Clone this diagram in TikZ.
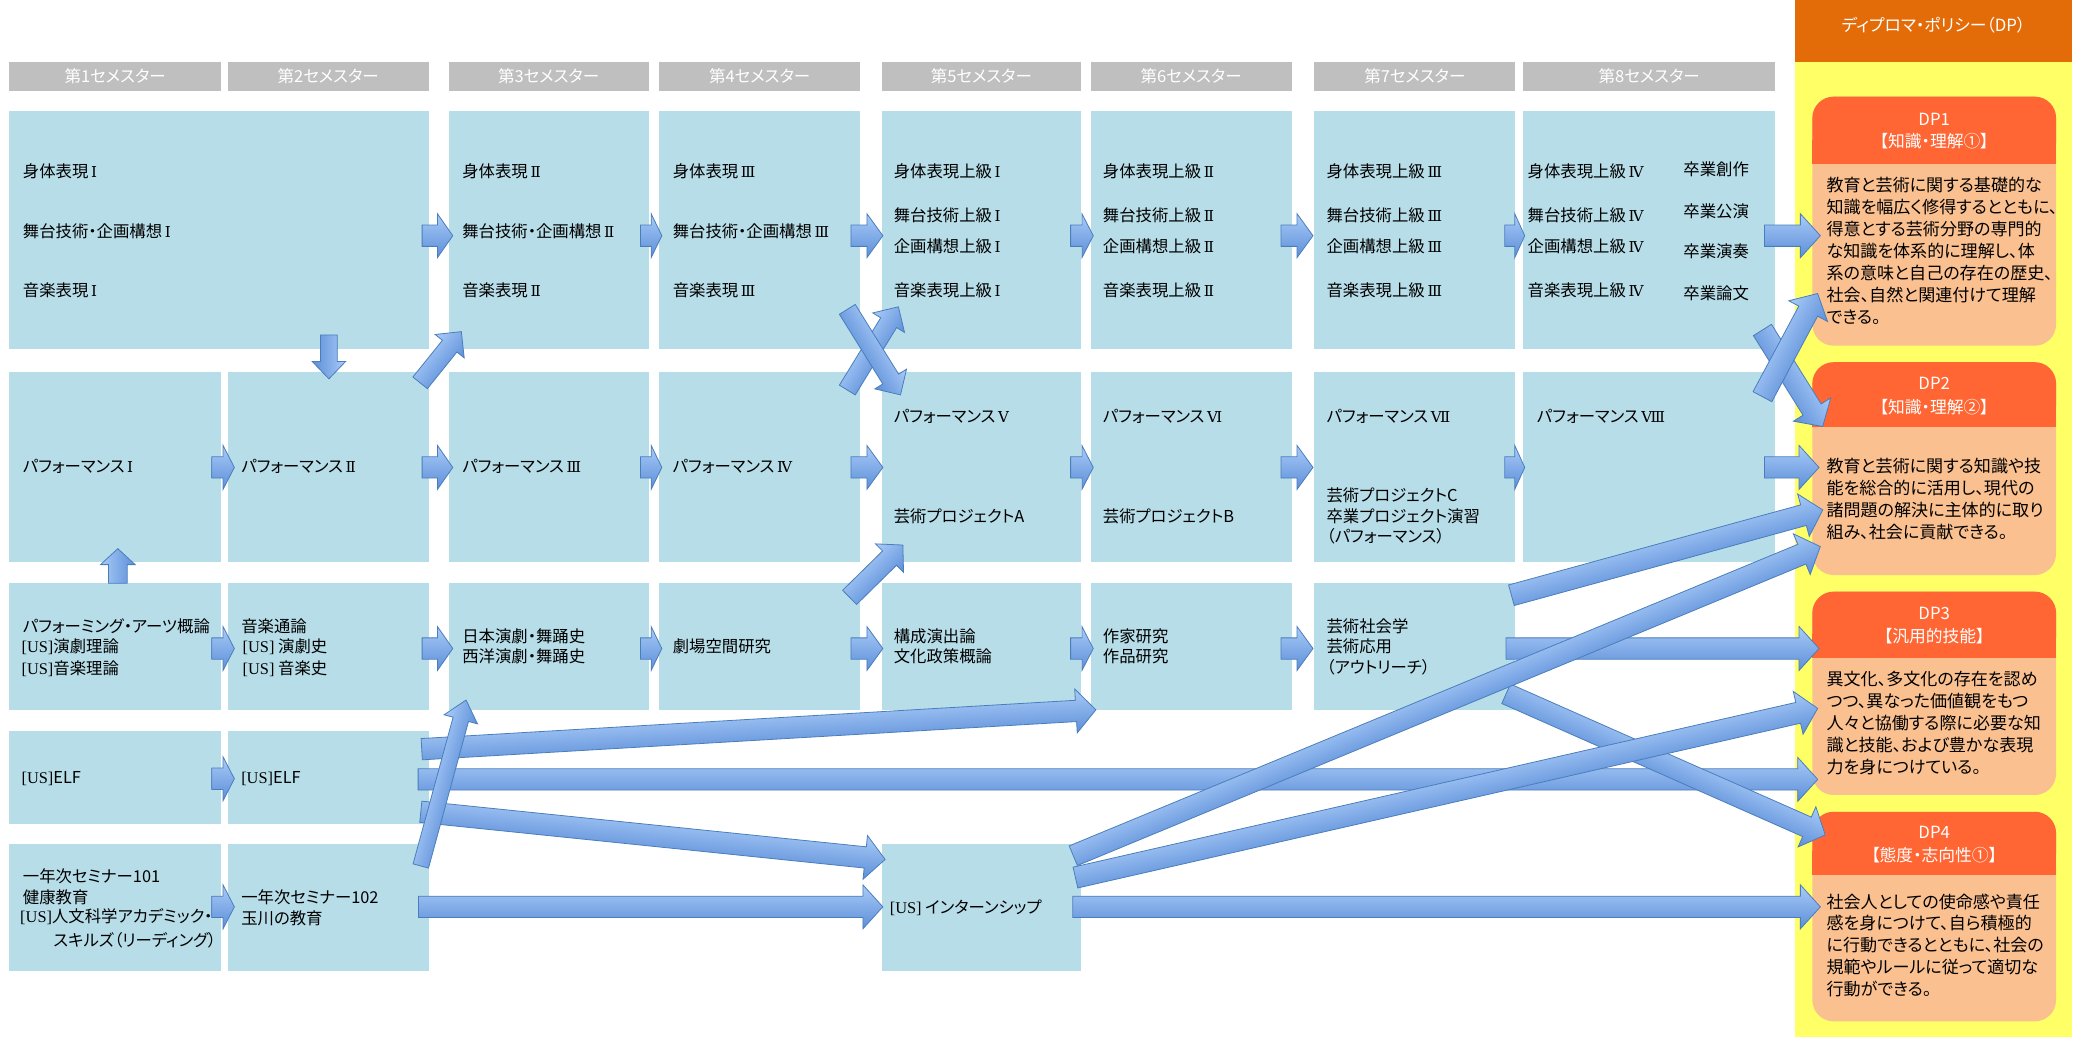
\documentclass[tikz,border=0pt]{standalone}
\usepackage{fontspec}
\setmainfont{Noto Sans CJK JP}[RawFeature={+palt}]
\newfontfamily\usfont{Liberation Serif}
\newfontfamily\romfont{DejaVu Serif}[Scale=0.92]
\usetikzlibrary{calc}
\definecolor{boxblue}{HTML}{B7DDE8}
\definecolor{hdrgray}{HTML}{BFBFBF}
\definecolor{dpdark}{HTML}{E36C09}
\definecolor{dpyellow}{HTML}{FFFF66}
\definecolor{dphead}{HTML}{FF6633}
\definecolor{dpbody}{HTML}{FAC090}
\definecolor{arrtop}{HTML}{A9CBF8}
\definecolor{arrbot}{HTML}{5C8ED8}
\definecolor{arredge}{HTML}{4A7EBB}
\newcommand\US{{\usfont[US]}}
\newcommand\rn[1]{{\kern2pt\romfont #1}}
\pgfkeys{/barr/sw/.initial=8,/barr/hw/.initial=16.5,/barr/hl/.initial=15}
\newcommand\barrow[3][]{%
  \begingroup
  \pgfkeys{/barr/.cd,#1}%
  \edef\bsw{\pgfkeysvalueof{/barr/sw}}%
  \edef\bhw{\pgfkeysvalueof{/barr/hw}}%
  \edef\bhl{\pgfkeysvalueof{/barr/hl}}%
  \path #2 coordinate (barrS) #3 coordinate (barrE);
  \pgfpointdiff{\pgfpointanchor{barrS}{center}}{\pgfpointanchor{barrE}{center}}%
  \pgfgetlastxy{\bdx}{\bdy}%
  \pgfmathsetmacro\blen{veclen(\bdx,\bdy)}%
  \pgfmathsetmacro\bang{atan2(\bdy,\bdx)}%
  \pgfmathsetmacro\bneck{\blen-min(\bhl,0.5*\blen)}%
  \begin{scope}[transform canvas={shift={(barrS)},rotate=\bang}]
    \path[blockarrow] (0pt,\bsw pt) -- (\bneck pt,\bsw pt) -- (\bneck pt,\bhw pt) -- (\blen pt,0pt)
     -- (\bneck pt,-\bhw pt) -- (\bneck pt,-\bsw pt) -- (0pt,-\bsw pt) -- cycle;
  \end{scope}
  \endgroup}
\tikzset{
  box/.style={fill=boxblue,anchor=north west,inner sep=0,outer sep=0},
  hdr/.style={fill=hdrgray,anchor=north west,inner sep=0,outer sep=0,text=white,font=\fontsize{12.4}{14}\selectfont},
  txt/.style={anchor=west,inner sep=0,font=\fontsize{12.3}{14}\selectfont},
  dptxt/.style={anchor=west,inner sep=0,font=\fontsize{12.8}{15}\selectfont},
  dpw/.style={inner sep=0,text=white,font=\fontsize{12.6}{14}\selectfont},
  blockarrow/.style={draw=arredge,line width=0.6pt,top color=arrtop,bottom color=arrbot}
}
\newcommand\cbox[5]{\node[box,minimum width={#4-#2},minimum height={#5-#3}] (#1) at (#2,#3) {};}
\newcommand\hdrbox[4]{\node[hdr,minimum width={#3-#2},minimum height=21.4] (#1) at (#2,46.6) {#4};}
\newcommand\dpbox[4]{%
  \node[fill=dpbody,rounded corners=16pt,anchor=north west,inner sep=0,outer sep=0,minimum width=183,minimum height={#4-#2}] (#1) at (1361,#2) {};
  \fill[dphead,rounded corners=16pt] (1361,#2) rectangle (1544,#3);
  \fill[dphead] (1361,#3-18) rectangle (1544,#3);}
\newcommand\dplines[3]{%
  \foreach \ln [count=\i] in {#3} {\node[dptxt] (#1-\i) at (1371.5,{#2+(\i-1)*16.5}) {\ln};}}
\begin{document}
\begin{tikzpicture}[x=1pt,y=-1pt]
\useasboundingbox (0,0) rectangle (1568,779);
\fill[white] (0,0) rectangle (1568,779);
% headers
\hdrbox{h1}{7}{166}{第1セメスター}
\hdrbox{h2}{171}{322}{第2セメスター}
\hdrbox{h3}{337}{487}{第3セメスター}
\hdrbox{h4}{495}{646}{第4セメスター}
\hdrbox{h5}{662}{812}{第5セメスター}
\hdrbox{h6}{819}{970}{第6セメスター}
\hdrbox{h7}{987}{1138}{第7セメスター}
\hdrbox{h8}{1144}{1333}{第8セメスター}
% DP panel
\node[fill=dpdark,anchor=north west,inner sep=0,outer sep=0,minimum width=208,minimum height=46.6] (dptop) at (1348,0) {};
\node[dpw,font=\fontsize{12.6}{14}\selectfont] (dptitle) at (1452,19) {ディプロマ・ポリシー（DP）};
\node[fill=dpyellow,anchor=north west,inner sep=0,outer sep=0,minimum width=208,minimum height=732.4] (dppanel) at (1348,46.6) {};
\dpbox{dp1}{72.6}{123}{259.6}
\dpbox{dp2}{272}{320.4}{431.8}
\dpbox{dp3}{444.3}{494}{597}
\dpbox{dp4}{609.6}{657}{767}
\node[dpw] (dp1a) at (1452.5,90) {DP1};
\node[dpw] (dp1b) at (1452.5,106) {【知識・理解①】};
\node[dpw] (dp2a) at (1452.5,288) {DP2};
\node[dpw] (dp2b) at (1452.5,305.4) {【知識・理解②】};
\node[dpw] (dp3a) at (1452.5,461) {DP3};
\node[dpw] (dp3b) at (1452.5,477.6) {【汎用的技能】};
\node[dpw] (dp4a) at (1452.5,625) {DP4};
\node[dpw] (dp4b) at (1452.5,642) {【態度・志向性①】};
\dplines{dp1t}{139}{教育と芸術に関する基礎的な,知識を幅広く修得するとともに、,得意とする芸術分野の専門的,な知識を体系的に理解し、体,系の意味と自己の存在の歴史、,社会、自然と関連付けて理解,できる。}
\dplines{dp2t}{350}{教育と芸術に関する知識や技,能を総合的に活用し、現代の,諸問題の解決に主体的に取り,組み、社会に貢献できる。}
\dplines{dp3t}{510}{異文化、多文化の存在を認め,つつ、異なった価値観をもつ,人々と協働する際に必要な知,識と技能、および豊かな表現,力を身につけている。}
\dplines{dp4t}{677}{社会人としての使命感や責任,感を身につけて、自ら積極的,に行動できるとともに、社会の,規範やルールに従って適切な,行動ができる。}
% boxes
\cbox{b1a}{7}{83}{322}{262}
\cbox{b1c}{337}{83}{487}{262}
\cbox{b1d}{495}{83}{646}{262}
\cbox{b1e}{662}{83}{812}{262}
\cbox{b1f}{819}{83}{970}{262}
\cbox{b1g}{987}{83}{1138}{262}
\cbox{b1h}{1144}{83}{1333}{262}
\cbox{b2a}{7}{279}{166}{422}
\cbox{b2b}{171}{279}{322}{422}
\cbox{b2c}{337}{279}{487}{422}
\cbox{b2d}{495}{279}{646}{422}
\cbox{b2e}{662}{279}{812}{422}
\cbox{b2f}{819}{279}{970}{422}
\cbox{b2g}{987}{279}{1138}{422}
\cbox{b2h}{1144}{279}{1333}{422}
\cbox{b3a}{7}{438}{166}{533}
\cbox{b3b}{171}{438}{322}{533}
\cbox{b3c}{337}{438}{487}{533}
\cbox{b3d}{495}{438}{646}{533}
\cbox{b3e}{662}{438}{812}{533}
\cbox{b3f}{819}{438}{970}{533}
\cbox{b3g}{987}{438}{1138}{533}
\cbox{b4a}{7}{549}{166}{618.6}
\cbox{b4b}{171}{549}{322}{618.6}
\cbox{b5a}{7}{634}{166}{729}
\cbox{b5b}{171}{634}{322}{729}
\cbox{b5e}{662}{634}{812}{729}
% texts row 1
\node[txt] (t1a1) at (17,129) {身体表現\rn{Ⅰ}};
\node[txt] (t1a2) at (17,174) {舞台技術・企画構想\rn{Ⅰ}};
\node[txt] (t1a3) at (17,218) {音楽表現\rn{Ⅰ}};
\node[txt] (t1c1) at (347,129) {身体表現\rn{Ⅱ}};
\node[txt] (t1c2) at (347,174) {舞台技術・企画構想\rn{Ⅱ}};
\node[txt] (t1c3) at (347,218) {音楽表現\rn{Ⅱ}};
\node[txt] (t1d1) at (505,129) {身体表現\rn{Ⅲ}};
\node[txt] (t1d2) at (505,174) {舞台技術・企画構想\rn{Ⅲ}};
\node[txt] (t1d3) at (505,218) {音楽表現\rn{Ⅲ}};
\node[txt] (t1e1) at (671,129) {身体表現上級\rn{Ⅰ}};
\node[txt] (t1e2) at (671,161.5) {舞台技術上級\rn{Ⅰ}};
\node[txt] (t1e3) at (671,184.7) {企画構想上級\rn{Ⅰ}};
\node[txt] (t1e4) at (671,218) {音楽表現上級\rn{Ⅰ}};
\node[txt] (t1f1) at (828,129) {身体表現上級\rn{Ⅱ}};
\node[txt] (t1f2) at (828,161.5) {舞台技術上級\rn{Ⅱ}};
\node[txt] (t1f3) at (828,184.7) {企画構想上級\rn{Ⅱ}};
\node[txt] (t1f4) at (828,218) {音楽表現上級\rn{Ⅱ}};
\node[txt] (t1g1) at (996,129) {身体表現上級\rn{Ⅲ}};
\node[txt] (t1g2) at (996,161.5) {舞台技術上級\rn{Ⅲ}};
\node[txt] (t1g3) at (996,184.7) {企画構想上級\rn{Ⅲ}};
\node[txt] (t1g4) at (996,218) {音楽表現上級\rn{Ⅲ}};
\node[txt] (t1h1) at (1147,129) {身体表現上級\rn{Ⅳ}};
\node[txt] (t1h2) at (1147,161.5) {舞台技術上級\rn{Ⅳ}};
\node[txt] (t1h3) at (1147,184.7) {企画構想上級\rn{Ⅳ}};
\node[txt] (t1h4) at (1147,218) {音楽表現上級\rn{Ⅳ}};
\node[txt] (t1h5) at (1264,127) {卒業創作};
\node[txt] (t1h6) at (1264,158.5) {卒業公演};
\node[txt] (t1h7) at (1264,189) {卒業演奏};
\node[txt] (t1h8) at (1264,220) {卒業論文};
% row 2
\node[txt] (t2a) at (17,350.5) {パフォーマンス\rn{Ⅰ}};
\node[txt] (t2b) at (181,350.5) {パフォーマンス\rn{Ⅱ}};
\node[txt] (t2c) at (347,350.5) {パフォーマンス\rn{Ⅲ}};
\node[txt] (t2d) at (505,350.5) {パフォーマンス\rn{Ⅳ}};
\node[txt] (t2e1) at (671,313) {パフォーマンス\rn{Ⅴ}};
\node[txt] (t2e2) at (671,387.5) {芸術プロジェクトA};
\node[txt] (t2f1) at (828,313) {パフォーマンス\rn{Ⅵ}};
\node[txt] (t2f2) at (828,387.5) {芸術プロジェクトB};
\node[txt] (t2g1) at (996,313) {パフォーマンス\rn{Ⅶ}};
\node[txt] (t2g2) at (996,371.7) {芸術プロジェクトC};
\node[txt] (t2g3) at (996,387.5) {卒業プロジェクト演習};
\node[txt] (t2g4) at (996,402.5) {（パフォーマンス）};
\node[txt] (t2h) at (1154,313) {パフォーマンス\rn{Ⅷ}};
% row 3
\node[txt] (t3a1) at (17,470.6) {パフォーミング・アーツ概論};
\node[txt] (t3a2) at (16,485.6) {\US 演劇理論};
\node[txt] (t3a3) at (16,501.9) {\US 音楽理論};
\node[txt] (t3b1) at (181,470.6) {音楽通論};
\node[txt] (t3b2) at (182,486) {\US\ 演劇史};
\node[txt] (t3b3) at (182,502) {\US\ 音楽史};
\node[txt] (t3c1) at (347,478) {日本演劇・舞踊史};
\node[txt] (t3c2) at (347,493) {西洋演劇・舞踊史};
\node[txt] (t3d) at (505,485.6) {劇場空間研究};
\node[txt] (t3e1) at (671,478) {構成演出論};
\node[txt] (t3e2) at (671,493) {文化政策概論};
\node[txt] (t3f1) at (828,478) {作家研究};
\node[txt] (t3f2) at (828,493) {作品研究};
\node[txt] (t3g1) at (996,470.6) {芸術社会学};
\node[txt] (t3g2) at (996,485.6) {芸術応用};
\node[txt] (t3g3) at (996,501) {（アウトリーチ）};
% row 4, 5
\node[txt] (t4a) at (16,584.5) {\US ELF};
\node[txt] (t4b) at (181,584.5) {\US ELF};
\node[txt] (t5a1) at (17,658.3) {一年次セミナー101};
\node[txt] (t5a2) at (17,674) {健康教育};
\node[txt] (t5a3) at (15,688.4) {\US 人文科学アカデミック・};
\node[txt] (t5a4) at (40,706.4) {スキルズ（リーディング）};
\node[txt] (t5b1) at (181,674) {一年次セミナー102};
\node[txt] (t5b2) at (181,689.7) {玉川の教育};
\node[txt] (t5e) at (668,681.4) {\US\ インターンシップ};
% long arrows
\barrow{($(b4b.east)+(-8,1.5)$)}{($(dp3.west |- b4b.east)+(4,1.5)$)}
\barrow{($(b5b.east)+(-7.7,-0.5)$)}{($(b5e.west)+(1,-0.5)$)}
\barrow{($(b5e.east)+(-6.4,-0.5)$)}{($(dp4.west |- b5e.east)+(6,-0.5)$)}
\barrow{($(b4b.south east)+(-6,-9)$)}{($(b5e.north west)+(2.7,11.4)$)}
\barrow{($(b4b.north east)+(-5.3,13.6)$)}{($(b3f.south west)+(4,0)$)}
\barrow{($(b3g.east)+(-7,1.5)$)}{($(dp3.west |- b3g.east)+(5,1.5)$)}
\barrow{($(b3g.south east)+(-7,-12)$)}{($(dp4.north west)+(9.7,17.4)$)}
\barrow{($(b3g.north east)+(-3,9)$)}{($(dp2.west)+(7.8,31)$)}
\barrow{($(b5e.north east)+(-6,8.6)$)}{($(dp2.west)+(6,58.5)$)}
\barrow{($(b5e.east)+(-4.4,-22.5)$)}{($(dp3.west)+(4,11.3)$)}
\barrow[sw=6,hw=13]{($(b5b.north east)+(-6,16.3)$)}{($(b3c.south west)+(13,-7.3)$)}
% row arrows
\barrow{($(b1a.east)+(-5,4.5)$)}{($(b1c.west)+(3,4.5)$)}
\barrow{($(b1c.east)+(-6,4.5)$)}{($(b1d.west)+(2,4.5)$)}
\barrow{($(b1d.east)+(-7,4.5)$)}{($(b1e.west)+(1,4.5)$)}
\barrow{($(b1e.east)+(-8,4.5)$)}{($(b1f.west)+(2,4.5)$)}
\barrow{($(b1f.east)+(-8,4.5)$)}{($(b1g.west)+(-1,4.5)$)}
\barrow{($(b1g.east)+(-8,4.5)$)}{($(b1h.west)+(1,4.5)$)}
\barrow{($(b1h.east)+(-8,4.5)$)}{($(dp1.west |- b1h.east)+(6,4.5)$)}
\barrow{($(b2a.east)+(-7,0.5)$)}{($(b2b.west)+(5,0.5)$)}
\barrow{($(b2b.east)+(-5,0.5)$)}{($(b2c.west)+(3,0.5)$)}
\barrow{($(b2c.east)+(-6,0.5)$)}{($(b2d.west)+(2,0.5)$)}
\barrow{($(b2d.east)+(-7,0.5)$)}{($(b2e.west)+(1,0.5)$)}
\barrow{($(b2e.east)+(-8,0.5)$)}{($(b2f.west)+(2,0.5)$)}
\barrow{($(b2f.east)+(-8,0.5)$)}{($(b2g.west)+(-1,0.5)$)}
\barrow{($(b2g.east)+(-8,0.5)$)}{($(b2h.west)+(1,0.5)$)}
\barrow{($(b2h.east)+(-8,0.5)$)}{($(dp2.west |- b2h.east)+(5,0.5)$)}
\barrow{($(b3a.east)+(-7,1.5)$)}{($(b3b.west)+(5,1.5)$)}
\barrow{($(b3b.east)+(-5,1.5)$)}{($(b3c.west)+(3,1.5)$)}
\barrow{($(b3c.east)+(-6,1.5)$)}{($(b3d.west)+(2,1.5)$)}
\barrow{($(b3d.east)+(-7,1.5)$)}{($(b3e.west)+(1,1.5)$)}
\barrow{($(b3e.east)+(-8,1.5)$)}{($(b3f.west)+(2,1.5)$)}
\barrow{($(b3f.east)+(-8,1.5)$)}{($(b3g.west)+(-1,1.5)$)}
\barrow{($(b4a.east)+(-7,1)$)}{($(b4b.west)+(5,1)$)}
\barrow{($(b5a.east)+(-7,-0.5)$)}{($(b5b.west)+(5,-0.5)$)}
% vertical and diagonal arrows
\barrow[sw=6.3,hw=12.5,hl=13]{($(b2b.north)+(0.5,-27.5)$)}{($(b2b.north)+(0.5,5.5)$)}
\barrow[sw=7,hw=13,hl=12]{($(b3a.north)+(2,0)$)}{($(b2a.south)+(2,-10)$)}
\barrow[sw=7,hw=14,hl=14]{($(b2b.north east)+(-6.5,8.5)$)}{($(b1c.south west)+(9.5,-13)$)}
\barrow[sw=7,hw=14,hl=14]{($(b2d.north east)+(-9.7,13.9)$)}{($(b1e.south west)+(12.7,-31.7)$)}
\barrow[sw=7,hw=14,hl=14]{($(b1d.south east)+(-9.7,-29.7)$)}{($(b2e.north west)+(14.3,17.6)$)}
\barrow[sw=7.5,hw=15,hl=14]{($(b3d.north east)+(-8,10.6)$)}{($(b2e.south west)+(16,-12.7)$)}
\barrow{($(b1h.south east)+(-9.5,-14.2)$)}{($(dp2.north west)+(7.8,48.4)$)}
\barrow{($(b2h.north east)+(-9.5,18.9)$)}{($(dp1.west)+(4,54.2)$)}
\end{tikzpicture}
\end{document}
